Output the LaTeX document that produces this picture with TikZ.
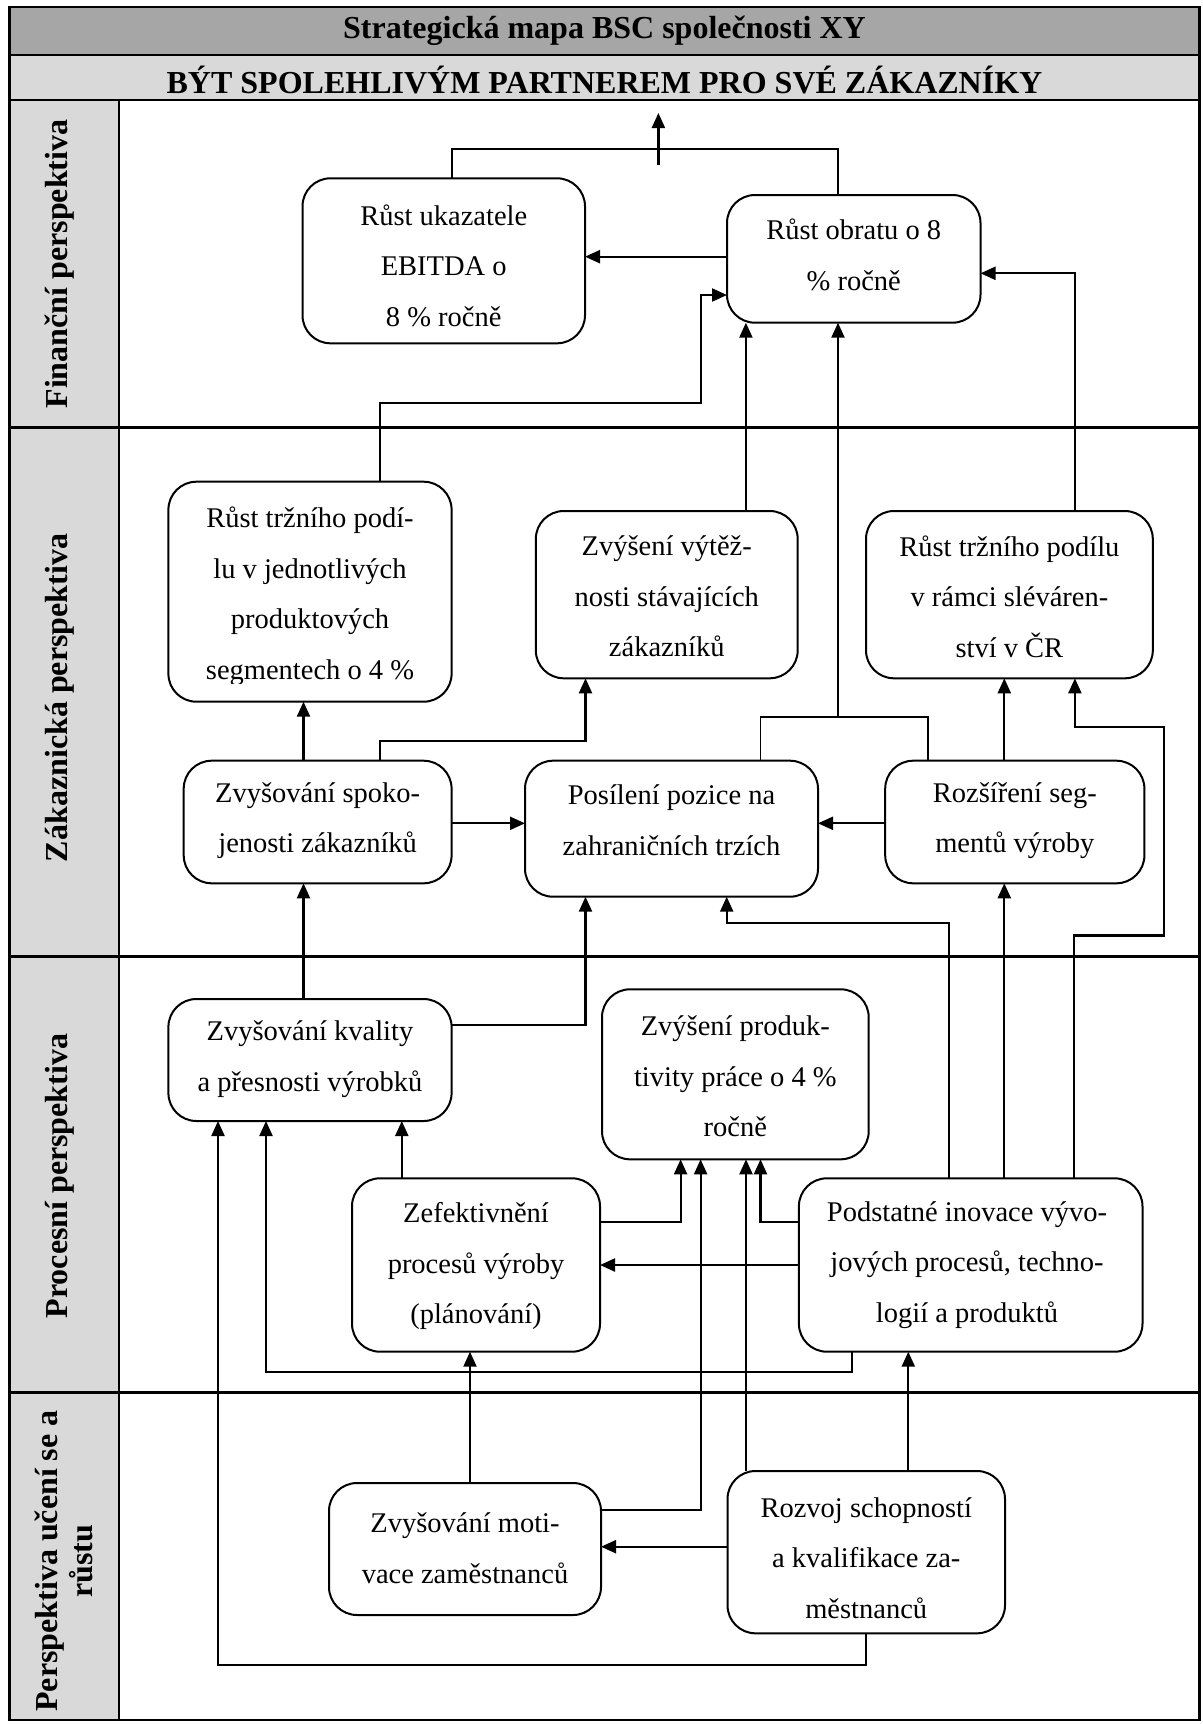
\documentclass[tikz,border=0pt]{standalone}
\usepackage{fontspec}
\setmainfont{Liberation Serif}
\usetikzlibrary{arrows.meta}
\definecolor{hdrdark}{HTML}{A6A6A6}
\definecolor{hdrlight}{HTML}{D9D9D9}
\begin{document}
\begin{tikzpicture}[x=1pt,y=-1pt,
  box/.style={draw, fill=white, line width=2pt, rounded corners=28pt, inner sep=0pt, outer sep=0pt},
  txt/.style={align=center, font=\fontsize{28.5}{50.5}\selectfont, inner sep=0pt},
  lbl/.style={rotate=90, font=\fontsize{32}{35}\selectfont\bfseries, align=center, inner sep=0pt},
  hdr/.style={font=\fontsize{32}{38}\selectfont\bfseries, inner sep=0pt},
  con/.style={line width=1.8pt},
  arr/.style={line width=2.2pt, -{Triangle[length=15pt,width=13pt]}},
  gridline/.style={line width=2.6pt}
]
\useasboundingbox (0,0) rectangle (1202,1724);
% table
\fill[hdrdark] (9.5,7) rectangle (1199.5,55);
\fill[hdrlight] (9.5,55) rectangle (1199.5,100);
\fill[hdrlight] (9.5,100) rectangle (119,1720);
\draw[gridline] (9.5,7) rectangle (1199.5,1720);
\draw[gridline] (9.5,55) -- (1199.5,55);
\draw[gridline] (9.5,100) -- (1199.5,100);
\draw[gridline] (9.5,427.3) -- (1199.5,427.3);
\draw[gridline] (9.5,956.7) -- (1199.5,956.7);
\draw[gridline] (9.5,1392.7) -- (1199.5,1392.7);
\draw[gridline] (119,100) -- (119,1720);

\node[hdr] (title) at (604.5,31) {Strategická mapa BSC společnosti XY};
\node[hdr] (motto) at (604.5,80) {BÝT SPOLEHLIVÝM PARTNEREM PRO SVÉ ZÁKAZNÍKY};
\node[lbl] (pfin) at (60,264) {Finanční perspektiva};
\node[lbl] (pzak) at (60,698) {Zákaznická perspektiva};
\node[lbl] (pproc) at (60,1176) {Procesní perspektiva};
\node[lbl] (pluc) at (64,1561) {Perspektiva učení se a\\růstu};

% boxes
\node[box, minimum width=282.5pt, minimum height=165pt] (ebitda) at (443.75,260.8) {};
\node[box, minimum width=253.5pt, minimum height=127.7pt] (obrat) at (853.75,258.85) {};
\node[box, minimum width=283.2pt, minimum height=220pt] (trzni1) at (310,591.7) {};
\node[box, minimum width=261.9pt, minimum height=167.3pt] (vytez) at (666.75,594.65) {};
\node[box, minimum width=286.8pt, minimum height=167.3pt] (trzni2) at (1009.4,594.65) {};
\node[box, minimum width=267.9pt, minimum height=122.6pt] (spokoj) at (317.65,822) {};
\node[box, minimum width=293pt, minimum height=136pt] (pozice) at (671.5,828.7) {};
\node[box, minimum width=259.2pt, minimum height=122.6pt] (segm) at (1014.8,822) {};
\node[box, minimum width=283.2pt, minimum height=122pt] (kval) at (310,1060) {};
\node[box, minimum width=266.7pt, minimum height=170pt] (prod) at (735.35,1074.3) {};
\node[box, minimum width=248pt, minimum height=173.4pt] (zefekt) at (476,1265) {};
\node[box, minimum width=343.6pt, minimum height=173.4pt] (inov) at (970.7,1265) {};
\node[box, minimum width=272pt, minimum height=132pt] (motiv) at (465,1549) {};
\node[box, minimum width=277.5pt, minimum height=162.3pt] (rozvoj) at (866.25,1552.15) {};

% texts
\node[txt] (ebitda-t) at (443.75,265.5) {Růst ukazatele\\EBITDA o\\8 \% ročně};
\node[txt] (obrat-t) at (853.75,255) {Růst obratu o 8\\\% ročně};
\begin{scope}
\clip (170,485) rectangle (450,683);
\node[txt] (trzni1-t) at (310,596.3) {Růst tržního podí-\\lu v jednotlivých\\produktových\\segmentech o 4 \%};
\end{scope}
\node[txt] (vytez-t) at (666.75,596.7) {Zvýšení výtěž-\\nosti stávajících\\zákazníků};
\node[txt] (trzni2-t) at (1009.4,596.7) {Růst tržního podílu\\v rámci sléváren-\\ství v ČR};
\node[txt] (spokoj-t) at (317.65,820.5) {Zvyšování spoko-\\jenosti zákazníků};
\node[txt] (pozice-t) at (671.5,820) {Posílení pozice na\\zahraničních trzích};
\node[txt] (segm-t) at (1014.8,820.5) {Rozšíření seg-\\mentů výroby};
\node[txt] (kval-t) at (310,1059) {Zvyšování kvality\\a přesnosti výrobků};
\node[txt] (prod-t) at (735.35,1076.7) {Zvýšení produk-\\tivity práce o 4 \%\\ročně};
\node[txt] (zefekt-t) at (476,1266) {Zefektivnění\\procesů výroby\\(plánování)};
\node[txt] (inov-t) at (967,1265) {Podstatné inovace vývo-\\jových procesů, techno-\\logií a produktů};
\node[txt] (motiv-t) at (465,1548.3) {Zvyšování moti-\\vace zaměstnanců};
\node[txt] (rozvoj-t) at (866.25,1557.8) {Rozvoj schopností\\a kvalifikace za-\\městnanců};

% connectors
\coordinate (vis1) at (658.4,165);
\coordinate (vis2) at (658.4,113);
\coordinate (j1) at (838,716.7);
\draw[con] (ebitda.north -| 451.6,0) -- (451.6,149) -- (838.3,149) -- (obrat.north -| 838.3,0);
\draw[arr] (vis1) -- (vis2);
\draw[arr] (obrat.west |- 0,256.7) -- (ebitda.east |- 0,256.7);
\draw[arr] (trzni1.north -| 380,0) -- (380,402.7) -- (700.6,402.7) -- (700.6,295) -- (obrat.west |- 0,295);
\draw[arr] (vytez.north -| 745.9,0) -- (obrat.south -| 745.9,0);
\draw[con] (pozice.north -| 760.5,0) -- (760.5,716.7) -- (928.2,716.7) -- (segm.north -| 928.2,0);
\draw[arr] (j1) -- (obrat.south -| j1);
\draw[arr] (trzni2.north -| 1074.9,0) -- (1074.9,273.3) -- (obrat.east |- 0,273.3);
\draw[arr] (spokoj.north -| 303.5,0) -- (trzni1.south -| 303.5,0);
\draw[arr] (spokoj.north -| 380,0) -- (380,741) -- (585.5,741) -- (vytez.south -| 585.5,0);
\draw[arr] (spokoj.east |- 0,823.3) -- (pozice.west |- 0,823.3);
\draw[arr] (segm.west |- 0,823.3) -- (pozice.east |- 0,823.3);
\draw[arr] (segm.north -| 1004.3,0) -- (trzni2.south -| 1004.3,0);
\draw[arr] (inov.north -| 1074.1,0) -- (1074.1,935.5) -- (1163.6,935.5) -- (1163.6,726.7) -- (1074.9,726.7) -- (trzni2.south -| 1074.9,0);
\draw[arr] (inov.north -| 948.6,0) -- (948.6,923.3) -- (726.7,923.3) -- (pozice.south -| 726.7,0);
\draw[arr] (inov.north -| 1004.3,0) -- (segm.south -| 1004.3,0);
\draw[arr] (kval.north -| 303.5,0) -- (spokoj.south -| 303.5,0);
\draw[arr] (kval.east |- 0,1025) -- (585.5,1025) -- (pozice.south -| 585.5,0);
\draw[arr] (zefekt.north -| 401.8,0) -- (kval.south -| 401.8,0);
\draw[arr] (inov.south -| 852.2,0) -- (852.2,1371.7) -- (266,1371.7) -- (kval.south -| 266,0);
\draw[arr] (rozvoj.south -| 865.7,0) -- (865.7,1665) -- (218,1665) -- (kval.south -| 218,0);
\draw[arr] (zefekt.east |- 0,1221.7) -- (680.6,1221.7) -- (prod.south -| 680.6,0);
\draw[arr] (inov.west |- 0,1221.7) -- (760.5,1221.7) -- (prod.south -| 760.5,0);
\draw[arr] (inov.west |- 0,1265) -- (zefekt.east |- 0,1265);
\draw[arr] (motiv.east |- 0,1510) -- (700.6,1510) -- (prod.south -| 700.6,0);
\draw[arr] (rozvoj.north -| 746,0) -- (prod.south -| 746,0);
\draw[arr] (rozvoj.north -| 908.3,0) -- (inov.south -| 908.3,0);
\draw[arr] (rozvoj.west |- 0,1546.7) -- (motiv.east |- 0,1546.7);
\draw[arr] (motiv.north -| 470,0) -- (zefekt.south -| 470,0);
\end{tikzpicture}
\end{document}
